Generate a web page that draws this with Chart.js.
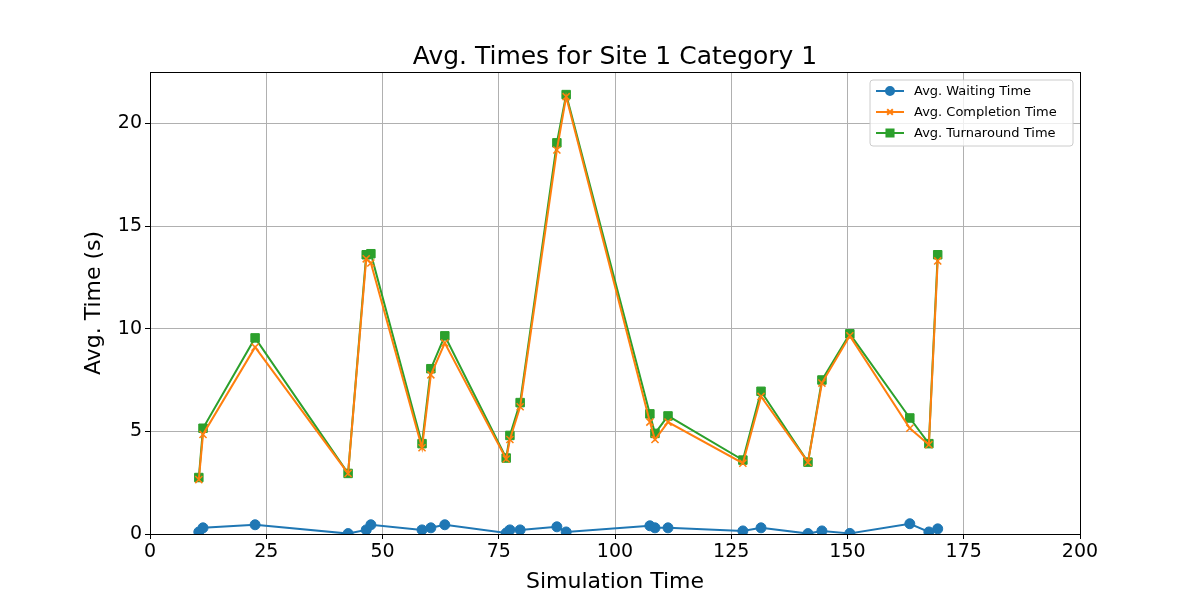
<!DOCTYPE html>
<html>
<head>
<meta charset="utf-8">
<script src="https://cdn.jsdelivr.net/npm/chart.js@4"></script>
<style>
	body { margin: 0; background: #fff; }
</style>
</head>
<body>
<canvas id="chart" width="1200" height="600"></canvas>
<script>
// data
var simTime = [10.5, 11.4, 22.6, 42.6, 46.5, 47.5, 58.5, 60.4, 63.4, 76.6, 77.4, 79.6, 87.5, 89.5, 107.5, 108.6, 111.4, 127.5, 131.4, 141.5, 144.5, 150.5, 163.4, 167.5, 169.4];
var waiting = [0.1, 0.3, 0.45, 0.02, 0.2, 0.45, 0.2, 0.3, 0.45, 0.05, 0.2, 0.2, 0.35, 0.1, 0.4, 0.3, 0.3, 0.15, 0.3, 0.02, 0.15, 0.03, 0.5, 0.1, 0.25];
var completion = [2.65, 4.85, 9.1, 2.95, 13.4, 13.2, 4.2, 7.75, 9.3, 3.65, 4.6, 6.2, 18.7, 21.3, 5.45, 4.6, 5.45, 3.45, 6.7, 3.5, 7.35, 9.65, 5.15, 4.35, 13.3];
var turnaround = [2.75, 5.15, 9.55, 2.95, 13.6, 13.65, 4.4, 8.05, 9.65, 3.7, 4.8, 6.4, 19.05, 21.4, 5.85, 4.9, 5.75, 3.6, 6.95, 3.5, 7.5, 9.75, 5.65, 4.4, 13.6];
var seriesNames = ["Avg. Waiting Time", "Avg. Completion Time", "Avg. Turnaround Time"];
var xTicks = [0, 25, 50, 75, 100, 125, 150, 175, 200];
var yTicks = [0, 5, 10, 15, 20];

var font = "DejaVu Sans";

function pts(ys) {
	return simTime.map(function(x, i) { return {x: x, y: ys[i]}; });
}

var styles = [
	{color: "#1f77b4", point: "circle", r: 5},
	{color: "#ff7f0e", point: "crossRot", r: 5},
	{color: "#2ca02c", point: "rect", r: 6}
];
var allData = [waiting, completion, turnaround];

var datasets = allData.map(function(d, i) {
	return {
		label: seriesNames[i],
		data: pts(d),
		borderColor: styles[i].color,
		backgroundColor: styles[i].color,
		borderWidth: 2,
		pointStyle: styles[i].point,
		pointRadius: styles[i].r,
		pointBorderWidth: i == 1 ? 1.5 : 1,
		tension: 0
	};
});

// title, axis titles + legend drawn like matplotlib
var extras = {
	id: "extras",
	afterDraw: function(c) {
		var ctx = c.ctx, a = c.chartArea;
		ctx.save();
		ctx.fillStyle = "#000";
		ctx.font = "25px '" + font + "'";
		ctx.textAlign = "center";
		ctx.textBaseline = "alphabetic";
		ctx.fillText("Avg. Times for Site 1 Category 1", (a.left + a.right) / 2, 64);
		ctx.font = "22px '" + font + "'";
		ctx.fillText("Simulation Time", (a.left + a.right) / 2, 588);
		ctx.save();
		ctx.translate(100, (a.top + a.bottom) / 2);
		ctx.rotate(-Math.PI / 2);
		ctx.fillText("Avg. Time (s)", 0, 0);
		ctx.restore();
		// plot frame
		ctx.strokeStyle = "#000";
		ctx.lineWidth = 1;
		ctx.strokeRect(a.left + 0.5, a.top + 0.5, a.right - a.left, a.bottom - a.top);
		// legend box
		var bx = 870, by = 80, bw = 203, bh = 66;
		ctx.fillStyle = "rgba(255,255,255,0.8)";
		ctx.strokeStyle = "#ccc";
		ctx.beginPath();
		ctx.roundRect(bx, by, bw, bh, 3);
		ctx.fill();
		ctx.stroke();
		ctx.font = "13px '" + font + "'";
		ctx.textAlign = "left";
		ctx.textBaseline = "middle";
		for (var i = 0; i < 3; i++) {
			var y = by + 11 + i * 21;
			ctx.strokeStyle = styles[i].color;
			ctx.fillStyle = styles[i].color;
			ctx.lineWidth = 2;
			ctx.beginPath();
			ctx.moveTo(bx + 6, y);
			ctx.lineTo(bx + 34, y);
			ctx.stroke();
			Chart.helpers.drawPoint(ctx, {pointStyle: styles[i].point, radius: styles[i].r - 1, borderWidth: 1.5}, bx + 20, y);
			if (styles[i].point != "crossRot") ctx.fill();
			ctx.fillStyle = "#000";
			ctx.fillText(seriesNames[i], bx + 44, y + 1);
		}
		ctx.restore();
	}
};

new Chart(document.getElementById("chart"), {
	type: "line",
	data: {datasets: datasets},
	options: {
		responsive: false,
		animation: false,
		layout: {padding: {top: 72, right: 120, left: 0, bottom: 0}},
		plugins: {legend: {display: false}, title: {display: false}, tooltip: {enabled: false}},
		scales: {
			x: {
				type: "linear",
				min: 0, max: 200,
				afterBuildTicks: function(s) { s.ticks = xTicks.map(function(v) { return {value: v}; }); },
				afterFit: function(s) { s.height = 66; },
				grid: {color: "#b0b0b0", lineWidth: 1, tickLength: 5, tickColor: "#000"},
				border: {display: false},
				ticks: {color: "#000", font: {family: font, size: 19}, padding: 2, maxRotation: 0}
			},
			y: {
				min: 0, max: 22.5,
				afterBuildTicks: function(s) { s.ticks = yTicks.map(function(v) { return {value: v}; }); },
				afterFit: function(s) { s.width = 150; },
				grid: {color: "#b0b0b0", lineWidth: 1, tickLength: 5, tickColor: "#000"},
				border: {display: false},
				ticks: {color: "#000", font: {family: font, size: 19}, padding: 3}
			}
		}
	},
	plugins: [extras]
});
</script>
</body>
</html>
